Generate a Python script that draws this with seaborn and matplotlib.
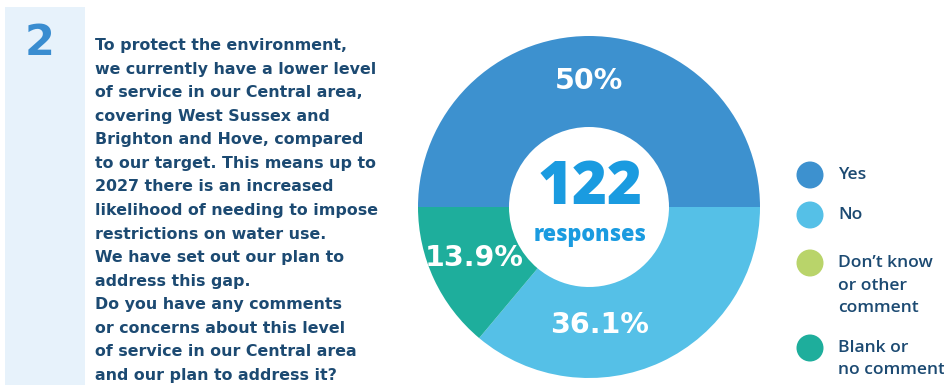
import numpy as np
import matplotlib
matplotlib.use("Agg")
import matplotlib.pyplot as plt
from matplotlib.patches import Rectangle, Circle
import seaborn as sns

# Survey question 2: responses about the Central area level of service
categories = ["Yes", "No", "Don\u2019t know\nor other\ncomment", "Blank or\nno comment"]
percentages = [50.0, 36.1, 0.0, 13.9]
total_responses = 122
question_number = "2"
question_lines = [
    "To protect the environment,",
    "we currently have a lower level",
    "of service in our Central area,",
    "covering West Sussex and",
    "Brighton and Hove, compared",
    "to our target. This means up to",
    "2027 there is an increased",
    "likelihood of needing to impose",
    "restrictions on water use.",
    "We have set out our plan to",
    "address this gap.",
    "Do you have any comments",
    "or concerns about this level",
    "of service in our Central area",
    "and our plan to address it?",
]

sns.set_theme(style="white")
plt.rcParams["font.family"] = ["Open Sans", "DejaVu Sans"]
wide = ["DejaVu Sans"]

palette = sns.color_palette(["#3d91cf", "#55c0e7", "#b9d46a", "#1eae9c"])
navy = "#1c4a72"
accent = "#1a9be0"

W, H = 945, 385
fig = plt.figure(figsize=(W / 100, H / 100), dpi=100)
fig.patch.set_facecolor("white")

# Overlay in pixel coordinates for the side panel, text and key
over = fig.add_axes([0, 0, 1, 1])
over.set_xlim(0, W)
over.set_ylim(H, 0)
over.axis("off")

over.add_patch(Rectangle((5, 7), 80, H - 7, color="#e7f2fb", lw=0, zorder=0))
over.text(39.5, 55, question_number, ha="center", va="baseline",
          fontsize=31, fontweight="bold", color="#3a8dd0", family=wide)

line_gap = 23.57
for i, line in enumerate(question_lines):
    over.text(95, 50 + i * line_gap, line, ha="left", va="baseline",
              fontsize=11.4, fontweight="bold", color=navy, family=wide)

# Donut chart
cx, cy, R = 589, 207, 171
ax = fig.add_axes([(cx - R) / W, (H - cy - R) / H, 2 * R / W, 2 * R / H])
shown = [(p, c) for p, c in zip(percentages, palette) if p > 0]
vals = [p for p, _ in shown]
cols = [c for _, c in shown]
wedges, _ = ax.pie(vals, colors=cols, startangle=180, counterclock=False,
                   radius=1.0, wedgeprops=dict(width=1 - 80 / R, edgecolor="none"))
ax.set_xlim(-1, 1)
ax.set_ylim(-1, 1)
ax.set_aspect("equal")
ax.axis("off")

label_r = [0.737, 0.69, 0.735]
label_shift = [0, -20, -1.3]
for w, v, r, s in zip(wedges, vals, label_r, label_shift):
    ang = np.deg2rad((w.theta1 + w.theta2) / 2 + s)
    ax.text(r * np.cos(ang), r * np.sin(ang), f"{v:g}%", ha="center", va="center",
            fontsize=20.5, fontweight="bold", color="white", family=wide)

ax.text(0.005, 0.11, f"{total_responses}", ha="center", va="center",
        fontsize=43, fontweight="heavy", color=accent)
ax.text(0.005, -0.165, "responses", ha="center", va="center",
        fontsize=15.6, fontweight="heavy", color=accent)

# Key
key_y = [175, 215, 263, 348]
for cat, col, y in zip(categories, palette, key_y):
    over.add_patch(Circle((810, y), 13.5, color=col, lw=0))
    for j, part in enumerate(cat.split("\n")):
        over.text(838, y + j * 22.5, part, ha="left", va="center",
                  fontsize=12.6, fontweight="semibold", color=navy)

fig.savefig("out.png", dpi=100, facecolor="white")
